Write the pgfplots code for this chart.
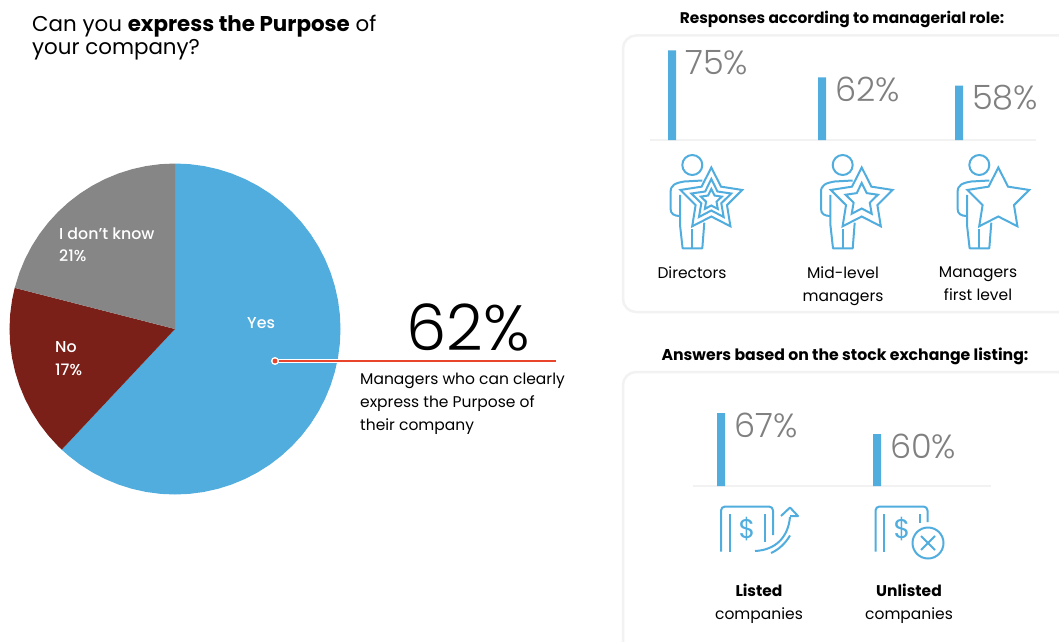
\documentclass[border=0pt]{standalone}
\usepackage{fontspec}
\setmainfont{Poppins}
\newfontfamily\lightfont{Poppins Light}
\newfontfamily\mediumfont{Poppins Medium}
\usepackage{pgfplots}
\pgfplotsset{compat=1.18}
\usepgfplotslibrary{polar}
\definecolor{skyblue}{HTML}{50ADDD}
\definecolor{darkred}{HTML}{7A2018}
\definecolor{midgray}{HTML}{868686}
\definecolor{panelgray}{HTML}{F2F2F2}
\definecolor{valuegray}{HTML}{808080}
\definecolor{leader}{HTML}{E8452C}

% five-pointed star centred on the current origin
\newcommand\starshape[2]{\draw[fill=white] (-90:#1) -- (-54:#2) -- (-18:#1) -- (18:#2) -- (54:#1) -- (90:#2) -- (126:#1) -- (162:#2) -- (198:#1) -- (234:#2) -- cycle;}

% standing figure with its head centred on the current origin
\newcommand\figurebody{%
  \draw (0,0) circle (10);
  \draw[line join=round] (10,15.5) -- (-8,16.5) .. controls (-17,18) and (-21.7,20) .. (-21.7,27)
    -- (-21.7,44) .. controls (-21.7,49) and (-18,51) .. (-12.3,51);
  \draw[line join=round] (-12.3,30) -- (-12.3,60) -- (-9.7,83.3) -- (10,83.3) -- (12,57.7);
  \draw (0,64.3) -- (0,83.3);
}

\pgfplotsset{
  rolebars/.style={
    scale only axis, ybar, bar shift=0pt, bar width=8pt,
    axis y line=none, axis x line=bottom,
    axis line style={draw=panelgray, line width=2.5pt, -},
    major tick length=0pt,
    xticklabel style={align=center, anchor=north, inner sep=0pt, text=black,
      font=\fontsize{15.5}{22.5}\selectfont},
    clip=true,
    point meta=y,
    /pgf/number format/assume math mode=true,
    nodes near coords={\pgfmathprintnumber{\pgfplotspointmeta}\%},
    every node near coord/.append style={anchor=north west, inner sep=0pt, xshift=13pt,
      text=valuegray, text height=24pt, font=\lightfont\fontsize{33.5}{33.5}\selectfont},
  },
}

\begin{document}
\begin{tikzpicture}
\useasboundingbox (0pt,0pt) rectangle (1059pt,641pt);

% rounded panels, running off the right and bottom edges
\begin{scope}[shift={(0pt,641pt)}, x=1pt, y=-1pt]
\draw[panelgray, line width=2.5pt, rounded corners=13pt] (1059,35.5) -- (623,35.5) -- (623,312) -- (1059,312);
\draw[panelgray, line width=2.5pt, rounded corners=13pt] (1059,372) -- (623,372) -- (623,660);
\end{scope}

% pie of the answers, with angles running clockwise from twelve o'clock
\begin{polaraxis}[
    at={(175pt,312pt)}, anchor=center, scale only axis, width=331pt, height=331pt,
    hide axis, clip=false, xmin=0, xmax=360, ymin=0, ymax=1]
  \addplot[fill=skyblue, draw=none] coordinates {
    (0,0) (90,1) (85,1) (80,1) (75,1) (70,1) (65,1) (60,1) (55,1) (50,1) (45,1) (40,1) (35,1)
    (30,1) (25,1) (20,1) (15,1) (10,1) (5,1) (0,1) (-5,1) (-10,1) (-15,1) (-20,1) (-25,1)
    (-30,1) (-35,1) (-40,1) (-45,1) (-50,1) (-55,1) (-60,1) (-65,1) (-70,1) (-75,1) (-80,1)
    (-85,1) (-90,1) (-95,1) (-100,1) (-105,1) (-110,1) (-115,1) (-120,1) (-125,1) (-130,1)
    (-133.2,1)};
  \addplot[fill=darkred, draw=none] coordinates {
    (0,0) (-133.2,1) (-135,1) (-140,1) (-145,1) (-150,1) (-155,1) (-160,1) (-165,1) (-170,1)
    (-175,1) (-180,1) (-185,1) (-190,1) (-194.4,1)};
  \addplot[fill=midgray, draw=none] coordinates {
    (0,0) (165.6,1) (160,1) (155,1) (150,1) (145,1) (140,1) (135,1) (130,1) (125,1) (120,1)
    (115,1) (110,1) (105,1) (100,1) (95,1) (90,1)};
\end{polaraxis}

% bars by managerial role
\begin{axis}[rolebars,
    at={(650pt,501pt)}, anchor=south west, width=386pt, height=100pt,
    xmin=650, xmax=1036, ymin=31.9, ymax=80,
    xtick={692,843,978},
    xticklabels={Directors,{Mid-level\\managers},{Managers\\first level}},
    xticklabel style={yshift=-127pt}]
  \addplot[fill=skyblue, draw=none] coordinates {(672,75) (822,62) (959,58)};
\end{axis}

% bars by stock exchange listing
\begin{axis}[rolebars,
    at={(693pt,155pt)}, anchor=south west, width=298pt, height=85pt,
    xmin=693, xmax=991, ymin=42.67, ymax=71,
    xtick={759,909},
    xticklabels={{\textbf{Listed}\\companies},{\textbf{Unlisted}\\companies}},
    xticklabel style={yshift=-98pt}]
  \addplot[fill=skyblue, draw=none] coordinates {(721,67) (877,60)};
\end{axis}

% everything below is laid out from the top-left corner, downwards
\begin{scope}[shift={(0pt,641pt)}, x=1pt, y=-1pt]
% headings
\node[anchor=west, inner sep=0pt, font=\fontsize{21.4}{23}\selectfont, align=left] at (32,38)
  {Can you \textbf{express the Purpose} of\\your company?};
\node[inner sep=0pt, font=\bfseries\fontsize{15.4}{16}\selectfont] at (842,19) {Responses according to managerial role:};
\node[inner sep=0pt, font=\bfseries\fontsize{15.7}{16}\selectfont] at (845,356) {Answers based on the stock exchange listing:};

% labels on the pie
\node[anchor=west, inner sep=0pt, text=white, font=\mediumfont\fontsize{15.8}{16}\selectfont] at (247,323) {Yes};
\node[anchor=west, inner sep=0pt, text=white, align=left, font=\mediumfont\fontsize{15.8}{23}\selectfont] at (55,359) {No\\17\%};
\node[anchor=west, inner sep=0pt, text=white, align=left, font=\mediumfont\fontsize{15.8}{22}\selectfont] at (59,245) {I don’t know\\21\%};

% call-out with its leader
\draw[white, line width=3.5pt] (275,361) -- (338,361);
\draw[leader, line width=1.1pt] (275,361) -- (556,361);
\fill[white] (275,361) circle (4);
\fill[leader] (275,361) circle (2.4);
\node[inner sep=0pt, font=\lightfont\fontsize{64}{64}\selectfont] at (468,327) {62\%};
\node[anchor=north west, inner sep=0pt, align=left, font=\fontsize{15.5}{23}\selectfont] at (360,373)
  {Managers who can clearly\\express the Purpose of\\their company};

% role icons
\begin{scope}[skyblue, line width=2pt]
  \begin{scope}[shift={(692.3,165)}]
    \figurebody
    \begin{scope}[shift={(19,35)}]
      \starshape{32.5}{16.5}\starshape{21}{10.5}\starshape{11}{5.5}
    \end{scope}
  \end{scope}
  \begin{scope}[shift={(842.7,165)}]
    \figurebody
    \begin{scope}[shift={(19,35)}]
      \starshape{32.5}{16.5}\starshape{17}{8.5}
    \end{scope}
  \end{scope}
  \begin{scope}[shift={(979.3,165)}]
    \figurebody
    \begin{scope}[shift={(19,35)}]
      \starshape{32.5}{16.5}
    \end{scope}
  \end{scope}

  % listed company: banknote with a rising arrow
  \draw[rounded corners=4pt] (721,551.5) -- (721,506.5) -- (773,506.5) -- (773,535);
  \draw (730,514) -- (730,551.5);
  \draw (765,514) -- (765,542);
  \node[inner sep=0pt, text=skyblue, font=\fontsize{27}{27}\selectfont] at (747,529) {\$};
  \draw (755,551) .. controls (775,550) and (788,538) .. (790,517);
  \draw[line join=round] (781,516) -- (790,507.5) -- (798,516) -- (790,516);
  \draw (771,553) .. controls (778,550) and (785,544) .. (790,535.5);

  % unlisted company: banknote with a cross in a circle
  \draw[rounded corners=4pt] (875.5,551.5) -- (875.5,506.5) -- (927.5,506.5) -- (927.5,522);
  \draw (884,514) -- (884,551.5);
  \draw (919.5,514) -- (919.5,523);
  \node[inner sep=0pt, text=skyblue, font=\fontsize{27}{27}\selectfont] at (902,529) {\$};
  \draw (928,543) circle (15.5);
  \draw (921,536) -- (935,550) (935,536) -- (921,550);
\end{scope}
\end{scope}
\end{tikzpicture}
\end{document}
